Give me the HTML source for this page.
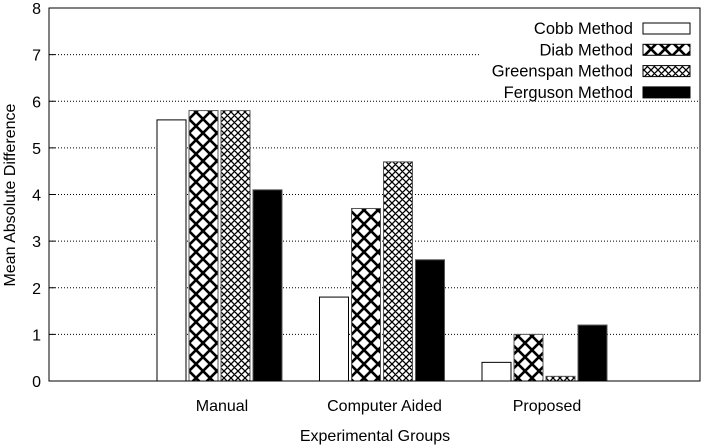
<!DOCTYPE html>
<html><head><meta charset="utf-8"><style>
html,body{margin:0;padding:0;background:#fff;}
svg{display:block;font-family:"Liberation Sans",Arial,sans-serif;}
</style></head><body>
<svg id="chart" width="709" height="445" viewBox="0 0 709 445">
<defs>
<pattern id="diab" width="14" height="14" patternUnits="userSpaceOnUse" x="0" y="0">
<rect width="14" height="14" fill="#fff"/>
<path d="M-2,2 L2,-2 M0,14 L14,0 M12,16 L16,12 M-2,12 L2,16 M0,0 L14,14 M12,-2 L16,2" stroke="#000" stroke-width="2.6"/>
</pattern>
<pattern id="green" width="7" height="7" patternUnits="userSpaceOnUse">
<rect width="7" height="7" fill="#fff"/>
<path d="M-1,1 L1,-1 M0,7 L7,0 M6,8 L8,6 M-1,6 L1,8 M0,0 L7,7 M6,-1 L8,1" stroke="#000" stroke-width="1.3"/>
</pattern>
</defs>
<g id="grid"></g>
<g id="bars"></g>
<g id="axes"></g>
<g id="legend"></g>
</svg>
<script>
const categories = ["Manual","Computer Aided","Proposed"];
const seriesNames = ["Cobb Method","Diab Method","Greenspan Method","Ferguson Method"];
const cobb = [5.6,1.8,0.4];
const diab = [5.8,3.7,1.0];
const greenspan = [5.8,4.7,0.1];
const ferguson = [4.1,2.6,1.2];
const yTicks = [0,1,2,3,4,5,6,7,8];

const NS="http://www.w3.org/2000/svg";
const L=49,R=700,T=8,B=381;
function y(v){return B-(v/8)*(B-T);}
function xc(i){return 220+i*162.5;}
function mk(tag,attrs,parent){const e=document.createElementNS(NS,tag);for(const k in attrs)e.setAttribute(k,attrs[k]);parent.appendChild(e);return e;}
const grid=document.getElementById('grid'),bars=document.getElementById('bars'),axes=document.getElementById('axes'),leg=document.getElementById('legend');
yTicks.forEach(t=>{
  if(t>0&&t<8){
    const x2 = t>=7 ? 480 : R;
    const g=mk('line',{x1:L,x2:x2,y1:y(t),y2:y(t),stroke:'#000','stroke-width':1,'stroke-dasharray':'1,2'},grid);
    
    
  }
  const tk=mk('line',{x1:L,x2:L+6,y1:y(t),y2:y(t),stroke:'#000'},axes);
  
  
  const tl=mk('text',{x:L-8,y:y(t)+6,'text-anchor':'end','font-size':16},axes);
  tl.textContent=t;
  
  
});
const series=[cobb,diab,greenspan,ferguson];
const fills=['#fff','url(#diab)','url(#green)','#000'];
const offs=[-63,-31,1,33];
series.forEach((s,si)=>{
  s.forEach((v,i)=>{
    const r=mk('rect',{x:xc(i)+offs[si],y:y(v),width:29,height:B-y(v),fill:fills[si],stroke:si==0?'#000':'#555','stroke-width':1},bars);
    
    
  });
});
categories.forEach((c,i)=>{
  const t=mk('text',{x:xc(i)+2,y:411,'text-anchor':'middle','font-size':16},axes);
  t.textContent=c;
  
  
});
const frame=mk('rect',{x:L,y:T,width:R-L,height:B-T,fill:'none',stroke:'#000','stroke-width':1},axes);


const xt=mk('text',{x:375,y:441,'text-anchor':'middle','font-size':16},axes);
xt.textContent='Experimental Groups';


const yt=mk('text',{x:0,y:0,'text-anchor':'middle','font-size':16,transform:'translate(15,195) rotate(-90)'},axes);
yt.textContent='Mean Absolute Difference';


seriesNames.forEach((n,i)=>{
  const yy=28+i*21.3;
  const t=mk('text',{x:633,y:yy+6,'text-anchor':'end','font-size':16.5},leg);
  t.textContent=n;
  
  
  const r=mk('rect',{x:643,y:yy-5,width:47,height:11,fill:fills[i],stroke:'#000','stroke-width':1},leg);
  
  
});
</script>
</body></html>
